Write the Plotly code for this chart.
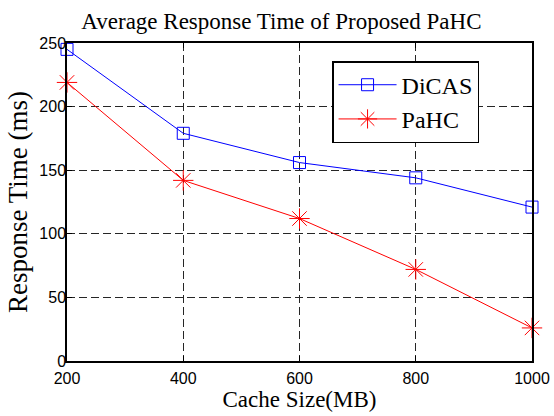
import plotly.graph_objects as go

cache_size = [200, 400, 600, 800, 1000]
dicas = [245, 179, 156, 144, 121]
pahc = [219, 142, 112, 72, 26]
x_ticks = [200, 400, 600, 800, 1000]
y_ticks = [0, 50, 100, 150, 200, 250]

fig = go.Figure()
fig.add_trace(go.Scatter(
    x=cache_size, y=dicas, name="DiCAS", mode="lines+markers",
    line=dict(color="#0000ff", width=1),
    marker=dict(symbol="square-open", size=12, color="#0000ff", line=dict(width=1, color="#0000ff")),
    cliponaxis=False,
))
fig.add_trace(go.Scatter(
    x=cache_size, y=pahc, name="PaHC", mode="lines+markers",
    line=dict(color="#ff0000", width=1),
    marker=dict(symbol="asterisk-open", size=17, color="#ff0000", line=dict(width=1, color="#ff0000")),
    cliponaxis=False,
))

axis_common = dict(
    showline=True, linecolor="black", linewidth=1.5, mirror="ticks",
    ticks="inside", ticklen=5, tickcolor="black",
    showgrid=True, gridcolor="#262626", griddash="8px,4px", gridwidth=1,
    zeroline=False, automargin=False,
    tickfont=dict(family="Liberation Sans, Arial", size=16, color="black"),
)

fig.update_layout(
    width=554, height=416,
    margin=dict(l=67, r=22, t=43, b=55),
    paper_bgcolor="white", plot_bgcolor="white",
    title=dict(text="Average Response Time of Proposed PaHC", x=0.508, xanchor="center",
               y=0.95, yanchor="middle", automargin=False,
               font=dict(family="Liberation Serif, Times New Roman", size=23, color="black")),
    xaxis=dict(range=[200, 1000], tickvals=x_ticks, ticklabelstandoff=2,
               title=dict(text="Cache Size(MB)", standoff=0,
                          font=dict(family="Liberation Serif, Times New Roman", size=23, color="black")),
               **axis_common),
    yaxis=dict(range=[0, 250], tickvals=y_ticks, ticklabelstandoff=-4,
               title=dict(text="Response Time (ms)", standoff=4,
                          font=dict(family="Liberation Serif, Times New Roman", size=27, color="black")),
               **axis_common),
    legend=dict(x=0.570, y=0.943, xanchor="left", yanchor="top",
                bgcolor="white", bordercolor="black", borderwidth=1.5,
                font=dict(family="Liberation Serif, Times New Roman", size=24, color="black"),
                itemwidth=58),
    showlegend=True,
)

fig.write_html("out.html", config={"displayModeBar": False},
               post_script="document.body.style.margin='0';document.body.style.overflow='hidden';")
